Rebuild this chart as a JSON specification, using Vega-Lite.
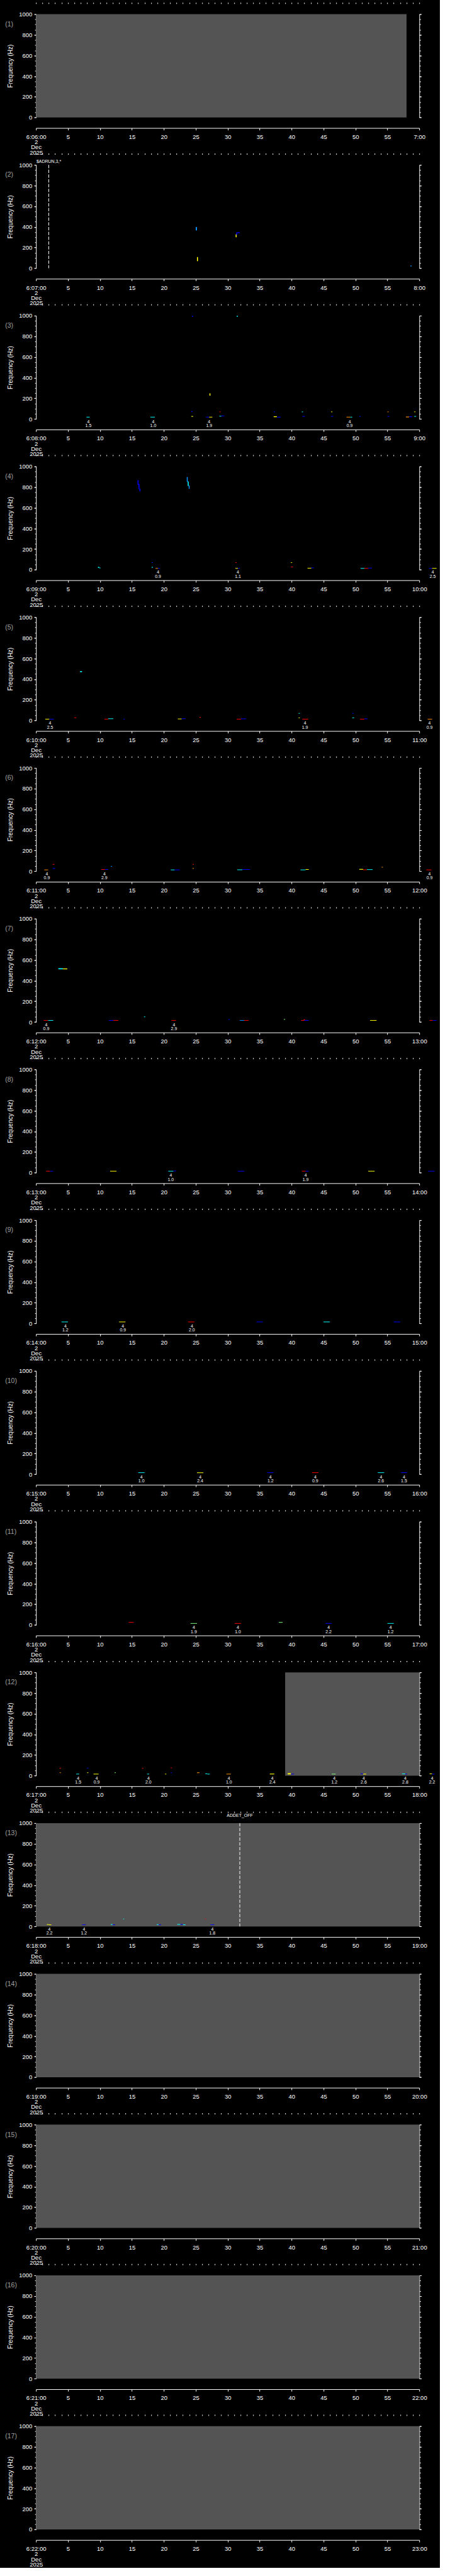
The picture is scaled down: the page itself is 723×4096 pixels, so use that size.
{
"$schema":"https://vega.github.io/schema/vega-lite/v6.json",
"background":"black",
"padding":{"left":8.2,"top":2.5,"right":5,"bottom":0},
"spacing":74.7,
"bounds":"flush",
"resolve":{"scale":{"x":"independent","y":"independent","color":"independent"},"axis":{"x":"independent","y":"independent"}},
"config":{
 "view":{"stroke":null},
 "font":"Liberation Sans",
 "axis":{"domainColor":"white","tickColor":"white","labelColor":"white","titleColor":"white","grid":false,"labelFontSize":9.5,"labelFont":"Liberation Sans","titleFont":"Liberation Sans","titleFontWeight":"normal","labelOverlap":false,"labelFlush":false,"labelBound":false,"domainWidth":1,"tickWidth":1,"zindex":1},
 "axisX":{"offset":16.7}
},
"datasets":{
 "panels":[{"p":1,"lab":"(1)"},{"p":2,"lab":"(2)"},{"p":3,"lab":"(3)"},{"p":4,"lab":"(4)"},{"p":5,"lab":"(5)"},{"p":6,"lab":"(6)"},{"p":7,"lab":"(7)"},{"p":8,"lab":"(8)"},{"p":9,"lab":"(9)"},{"p":10,"lab":"(10)"},{"p":11,"lab":"(11)"},{"p":12,"lab":"(12)"},{"p":13,"lab":"(13)"},{"p":14,"lab":"(14)"},{"p":15,"lab":"(15)"},{"p":16,"lab":"(16)"},{"p":17,"lab":"(17)"}],
 "gray":[
  {"p":1,"t":0,"t2":58,"f":0,"f2":1000},
  {"p":12,"t":39,"t2":60,"f":0,"f2":1000},
  {"p":13,"t":0,"t2":60,"f":0,"f2":1000},
  {"p":14,"t":0,"t2":60,"f":0,"f2":1000},
  {"p":15,"t":0,"t2":60,"f":0,"f2":1000},
  {"p":16,"t":0,"t2":60,"f":0,"f2":1000},
  {"p":17,"t":0,"t2":60,"f":0,"f2":1000}
 ],
 "events":[
  {"p":2,"t":2.0,"s":"$ADRUN,3,*"},
  {"p":13,"t":31.9,"s":"ADDET_OFF"}
 ],
 "notes":[
  {"p":3,"t":8.2,"a":"4","b":"1.5"},{"p":3,"t":18.35,"a":"4","b":"1.0"},{"p":3,"t":27.1,"a":"4","b":"1.9"},{"p":3,"t":49.1,"a":"4","b":"0.9"},
  {"p":4,"t":19.1,"a":"4","b":"0.9"},{"p":4,"t":31.6,"a":"4","b":"1.1"},{"p":4,"t":62.1,"a":"4","b":"2.5"},
  {"p":5,"t":2.2,"a":"4","b":"2.5"},{"p":5,"t":42.1,"a":"4","b":"1.9"},{"p":5,"t":61.6,"a":"4","b":"0.9"},
  {"p":6,"t":1.7,"a":"4","b":"0.9"},{"p":6,"t":10.7,"a":"4","b":"2.9"},{"p":6,"t":61.6,"a":"4","b":"0.9"},
  {"p":7,"t":1.6,"a":"4","b":"0.9"},{"p":7,"t":21.6,"a":"4","b":"2.9"},
  {"p":8,"t":21.1,"a":"4","b":"1.0"},{"p":8,"t":42.2,"a":"4","b":"1.9"},
  {"p":9,"t":4.6,"a":"4","b":"1.2"},{"p":9,"t":13.6,"a":"4","b":"0.9"},{"p":9,"t":24.4,"a":"4","b":"2.0"},
  {"p":10,"t":16.5,"a":"4","b":"1.0"},{"p":10,"t":25.7,"a":"4","b":"2.4"},{"p":10,"t":36.7,"a":"4","b":"1.2"},{"p":10,"t":43.7,"a":"4","b":"0.9"},{"p":10,"t":54.0,"a":"4","b":"2.6"},{"p":10,"t":57.6,"a":"4","b":"1.5"},
  {"p":11,"t":24.7,"a":"4","b":"1.9"},{"p":11,"t":31.6,"a":"4","b":"1.0"},{"p":11,"t":45.8,"a":"4","b":"2.2"},{"p":11,"t":55.5,"a":"4","b":"1.2"},
  {"p":12,"t":6.6,"a":"4","b":"1.5"},{"p":12,"t":9.5,"a":"4","b":"0.9"},{"p":12,"t":17.6,"a":"4","b":"2.0"},{"p":12,"t":30.2,"a":"4","b":"1.0"},{"p":12,"t":37.0,"a":"4","b":"2.4"},{"p":12,"t":46.7,"a":"4","b":"1.2"},{"p":12,"t":51.3,"a":"4","b":"2.6"},{"p":12,"t":57.8,"a":"4","b":"2.8"},{"p":12,"t":62.0,"a":"4","b":"2.2"},
  {"p":13,"t":2.1,"a":"4","b":"2.2"},{"p":13,"t":7.5,"a":"4","b":"1.2"},{"p":13,"t":27.6,"a":"4","b":"1.8"}
 ],
 "spots":[
  {"p":2,"t":25.0,"t2":25.2,"f":366,"f2":399,"v":2},
  {"p":2,"t":25.2,"t2":25.35,"f":69,"f2":108,"v":5},
  {"p":2,"t":31.25,"t2":31.4,"f":300,"f2":328,"v":5},
  {"p":2,"t":31.35,"t2":31.5,"f":322,"f2":346,"v":1},
  {"p":2,"t":31.45,"t2":31.9,"f":340,"f2":348,"v":1},
  {"p":2,"t":58.6,"t2":58.8,"f":18,"f2":26,"v":2},
  {"p":3,"t":24.4,"t2":24.6,"f":990,"f2":998,"v":1},
  {"p":3,"t":31.4,"t2":31.6,"f":990,"f2":998,"v":3},
  {"p":3,"t":27.15,"t2":27.3,"f":226,"f2":248,"v":5},
  {"p":3,"t":24.3,"t2":24.5,"f":68,"f2":76,"v":1},
  {"p":3,"t":28.7,"t2":28.9,"f":66,"f2":72,"v":7},
  {"p":3,"t":37.2,"t2":37.4,"f":66,"f2":72,"v":1},
  {"p":3,"t":41.6,"t2":41.8,"f":66,"f2":72,"v":3},
  {"p":3,"t":46.2,"t2":46.4,"f":66,"f2":72,"v":5},
  {"p":3,"t":55.0,"t2":55.2,"f":66,"f2":72,"v":6},
  {"p":3,"t":59.2,"t2":59.4,"f":66,"f2":72,"v":5},
  {"p":3,"t":7.9,"t2":8.4,"f":15,"f2":21,"v":3},
  {"p":3,"t":17.9,"t2":18.6,"f":15,"f2":21,"v":3},
  {"p":3,"t":24.3,"t2":24.6,"f":22,"f2":28,"v":5},
  {"p":3,"t":26.6,"t2":27.1,"f":15,"f2":21,"v":1},
  {"p":3,"t":27.1,"t2":27.6,"f":15,"f2":21,"v":5},
  {"p":3,"t":28.7,"t2":29.0,"f":24,"f2":30,"v":3},
  {"p":3,"t":29.0,"t2":29.5,"f":27,"f2":33,"v":1},
  {"p":3,"t":37.2,"t2":37.7,"f":18,"f2":26,"v":5},
  {"p":3,"t":37.7,"t2":38.3,"f":15,"f2":21,"v":1},
  {"p":3,"t":41.7,"t2":42.1,"f":22,"f2":28,"v":1},
  {"p":3,"t":46.2,"t2":46.5,"f":22,"f2":28,"v":1},
  {"p":3,"t":48.6,"t2":49.2,"f":15,"f2":21,"v":6},
  {"p":3,"t":49.2,"t2":49.5,"f":15,"f2":21,"v":3},
  {"p":3,"t":50.6,"t2":50.8,"f":22,"f2":28,"v":1},
  {"p":3,"t":55.0,"t2":55.3,"f":22,"f2":28,"v":1},
  {"p":3,"t":57.9,"t2":58.4,"f":16,"f2":23,"v":6},
  {"p":3,"t":58.4,"t2":58.9,"f":18,"f2":25,"v":1},
  {"p":3,"t":59.2,"t2":59.5,"f":22,"f2":28,"v":3},
  {"p":4,"t":15.9,"t2":16.05,"f":820,"f2":868,"v":1},
  {"p":4,"t":16.05,"t2":16.2,"f":780,"f2":830,"v":1},
  {"p":4,"t":16.2,"t2":16.35,"f":758,"f2":785,"v":1},
  {"p":4,"t":23.6,"t2":23.75,"f":850,"f2":897,"v":2},
  {"p":4,"t":23.75,"t2":23.9,"f":810,"f2":855,"v":3},
  {"p":4,"t":23.9,"t2":24.05,"f":783,"f2":815,"v":2},
  {"p":4,"t":9.7,"t2":9.9,"f":18,"f2":28,"v":3},
  {"p":4,"t":9.9,"t2":10.1,"f":14,"f2":20,"v":3},
  {"p":4,"t":18.1,"t2":18.3,"f":66,"f2":72,"v":1},
  {"p":4,"t":18.1,"t2":18.3,"f":20,"f2":27,"v":3},
  {"p":4,"t":18.7,"t2":19.1,"f":10,"f2":16,"v":6},
  {"p":4,"t":19.1,"t2":19.4,"f":10,"f2":16,"v":1},
  {"p":4,"t":31.2,"t2":31.4,"f":66,"f2":72,"v":7},
  {"p":4,"t":31.2,"t2":31.6,"f":10,"f2":16,"v":5},
  {"p":4,"t":31.6,"t2":31.9,"f":10,"f2":16,"v":1},
  {"p":4,"t":39.9,"t2":40.1,"f":66,"f2":72,"v":5},
  {"p":4,"t":39.9,"t2":40.2,"f":24,"f2":30,"v":7},
  {"p":4,"t":42.5,"t2":43.1,"f":12,"f2":18,"v":5},
  {"p":4,"t":43.1,"t2":43.5,"f":15,"f2":21,"v":1},
  {"p":4,"t":50.8,"t2":51.4,"f":10,"f2":16,"v":3},
  {"p":4,"t":51.4,"t2":52.0,"f":10,"f2":16,"v":7},
  {"p":4,"t":52.0,"t2":52.6,"f":13,"f2":19,"v":1},
  {"p":4,"t":61.5,"t2":62.0,"f":10,"f2":16,"v":1},
  {"p":4,"t":62.0,"t2":62.7,"f":10,"f2":16,"v":5},
  {"p":5,"t":6.9,"t2":7.2,"f":468,"f2":478,"v":3},
  {"p":5,"t":1.45,"t2":2.1,"f":10,"f2":16,"v":5},
  {"p":5,"t":2.1,"t2":2.8,"f":10,"f2":16,"v":1},
  {"p":5,"t":6.0,"t2":6.3,"f":24,"f2":30,"v":7},
  {"p":5,"t":10.7,"t2":11.3,"f":10,"f2":16,"v":7},
  {"p":5,"t":11.3,"t2":12.1,"f":14,"f2":20,"v":3},
  {"p":5,"t":13.7,"t2":13.9,"f":10,"f2":16,"v":1},
  {"p":5,"t":22.2,"t2":22.8,"f":12,"f2":18,"v":5},
  {"p":5,"t":22.8,"t2":23.4,"f":14,"f2":20,"v":1},
  {"p":5,"t":25.6,"t2":25.8,"f":27,"f2":33,"v":7},
  {"p":5,"t":31.4,"t2":32.1,"f":10,"f2":16,"v":7},
  {"p":5,"t":32.1,"t2":32.9,"f":13,"f2":19,"v":1},
  {"p":5,"t":41.1,"t2":41.3,"f":66,"f2":72,"v":3},
  {"p":5,"t":41.1,"t2":41.3,"f":23,"f2":29,"v":5},
  {"p":5,"t":41.7,"t2":42.6,"f":10,"f2":16,"v":7},
  {"p":5,"t":49.5,"t2":49.7,"f":66,"f2":72,"v":1},
  {"p":5,"t":49.5,"t2":49.8,"f":23,"f2":29,"v":3},
  {"p":5,"t":50.7,"t2":51.4,"f":10,"f2":16,"v":7},
  {"p":5,"t":51.4,"t2":51.9,"f":13,"f2":19,"v":1},
  {"p":5,"t":61.3,"t2":62.0,"f":10,"f2":16,"v":6},
  {"p":6,"t":1.3,"t2":1.9,"f":10,"f2":16,"v":6},
  {"p":6,"t":2.6,"t2":2.9,"f":64,"f2":70,"v":7},
  {"p":6,"t":2.6,"t2":3.0,"f":24,"f2":30,"v":1},
  {"p":6,"t":10.2,"t2":10.8,"f":14,"f2":20,"v":7},
  {"p":6,"t":10.8,"t2":11.3,"f":14,"f2":20,"v":1},
  {"p":6,"t":11.7,"t2":11.9,"f":44,"f2":50,"v":2},
  {"p":6,"t":21.1,"t2":21.7,"f":10,"f2":16,"v":3},
  {"p":6,"t":21.7,"t2":22.5,"f":10,"f2":16,"v":1},
  {"p":6,"t":24.5,"t2":24.7,"f":64,"f2":70,"v":7},
  {"p":6,"t":24.5,"t2":24.7,"f":24,"f2":30,"v":6},
  {"p":6,"t":31.5,"t2":32.3,"f":11,"f2":17,"v":3},
  {"p":6,"t":32.3,"t2":33.5,"f":14,"f2":20,"v":1},
  {"p":6,"t":41.4,"t2":42.2,"f":10,"f2":16,"v":3},
  {"p":6,"t":42.2,"t2":42.7,"f":14,"f2":20,"v":5},
  {"p":6,"t":50.6,"t2":51.2,"f":15,"f2":22,"v":5},
  {"p":6,"t":51.2,"t2":51.8,"f":11,"f2":17,"v":7},
  {"p":6,"t":51.8,"t2":52.7,"f":13,"f2":19,"v":3},
  {"p":6,"t":54.1,"t2":54.3,"f":36,"f2":42,"v":6},
  {"p":6,"t":61.1,"t2":61.9,"f":10,"f2":16,"v":7},
  {"p":7,"t":3.5,"t2":4.2,"f":510,"f2":520,"v":3},
  {"p":7,"t":4.2,"t2":4.9,"f":510,"f2":518,"v":5},
  {"p":7,"t":1.2,"t2":1.9,"f":12,"f2":18,"v":7},
  {"p":7,"t":1.9,"t2":2.7,"f":12,"f2":18,"v":3},
  {"p":7,"t":11.4,"t2":12.1,"f":12,"f2":18,"v":1},
  {"p":7,"t":12.1,"t2":12.9,"f":12,"f2":18,"v":7},
  {"p":7,"t":16.9,"t2":17.1,"f":47,"f2":53,"v":3},
  {"p":7,"t":21.2,"t2":21.9,"f":12,"f2":18,"v":7},
  {"p":7,"t":30.1,"t2":30.3,"f":21,"f2":27,"v":1},
  {"p":7,"t":31.9,"t2":32.6,"f":12,"f2":18,"v":2},
  {"p":7,"t":32.6,"t2":33.3,"f":12,"f2":18,"v":7},
  {"p":7,"t":38.8,"t2":39.0,"f":22,"f2":28,"v":4},
  {"p":7,"t":41.5,"t2":42.0,"f":12,"f2":18,"v":7},
  {"p":7,"t":42.0,"t2":42.7,"f":12,"f2":18,"v":1},
  {"p":7,"t":41.9,"t2":42.1,"f":18,"f2":26,"v":7},
  {"p":7,"t":52.3,"t2":53.3,"f":12,"f2":18,"v":5},
  {"p":7,"t":61.6,"t2":62.1,"f":12,"f2":18,"v":7},
  {"p":7,"t":62.1,"t2":62.7,"f":12,"f2":18,"v":1},
  {"p":8,"t":1.6,"t2":2.2,"f":12,"f2":18,"v":7},
  {"p":8,"t":2.2,"t2":2.7,"f":12,"f2":18,"v":1},
  {"p":8,"t":11.6,"t2":12.6,"f":12,"f2":18,"v":5},
  {"p":8,"t":20.7,"t2":21.5,"f":12,"f2":18,"v":3},
  {"p":8,"t":21.5,"t2":21.9,"f":14,"f2":20,"v":1},
  {"p":8,"t":31.6,"t2":32.6,"f":12,"f2":18,"v":1},
  {"p":8,"t":41.6,"t2":42.2,"f":12,"f2":18,"v":7},
  {"p":8,"t":42.2,"t2":42.7,"f":12,"f2":18,"v":1},
  {"p":8,"t":52.0,"t2":53.0,"f":12,"f2":18,"v":5},
  {"p":8,"t":61.4,"t2":62.4,"f":12,"f2":18,"v":1},
  {"p":9,"t":4.0,"t2":5.0,"f":12,"f2":18,"v":3},
  {"p":9,"t":13.0,"t2":14.0,"f":12,"f2":18,"v":5},
  {"p":9,"t":23.8,"t2":24.8,"f":12,"f2":18,"v":7},
  {"p":9,"t":34.5,"t2":35.5,"f":12,"f2":18,"v":1},
  {"p":9,"t":45.0,"t2":46.0,"f":12,"f2":18,"v":3},
  {"p":9,"t":56.0,"t2":57.0,"f":12,"f2":18,"v":1},
  {"p":10,"t":16.0,"t2":17.0,"f":12,"f2":18,"v":3},
  {"p":10,"t":25.2,"t2":26.2,"f":12,"f2":18,"v":5},
  {"p":10,"t":36.2,"t2":37.2,"f":12,"f2":18,"v":1},
  {"p":10,"t":43.2,"t2":44.2,"f":12,"f2":18,"v":7},
  {"p":10,"t":53.5,"t2":54.5,"f":12,"f2":18,"v":3},
  {"p":10,"t":57.1,"t2":58.1,"f":12,"f2":18,"v":1},
  {"p":11,"t":14.5,"t2":15.3,"f":22,"f2":28,"v":7},
  {"p":11,"t":24.2,"t2":25.2,"f":12,"f2":18,"v":4},
  {"p":11,"t":31.1,"t2":32.1,"f":12,"f2":18,"v":7},
  {"p":11,"t":38.0,"t2":38.6,"f":22,"f2":28,"v":4},
  {"p":11,"t":45.3,"t2":46.3,"f":12,"f2":18,"v":1},
  {"p":11,"t":55.0,"t2":56.0,"f":12,"f2":18,"v":3},
  {"p":12,"t":3.7,"t2":3.9,"f":70,"f2":76,"v":7},
  {"p":12,"t":3.7,"t2":3.9,"f":26,"f2":32,"v":6},
  {"p":12,"t":6.3,"t2":6.75,"f":13,"f2":19,"v":3},
  {"p":12,"t":8.0,"t2":8.2,"f":71,"f2":77,"v":1},
  {"p":12,"t":8.0,"t2":8.2,"f":26,"f2":32,"v":5},
  {"p":12,"t":9.0,"t2":9.8,"f":13,"f2":19,"v":5},
  {"p":12,"t":12.3,"t2":12.5,"f":26,"f2":32,"v":4},
  {"p":12,"t":16.6,"t2":16.8,"f":69,"f2":75,"v":7},
  {"p":12,"t":17.4,"t2":17.7,"f":13,"f2":19,"v":3},
  {"p":12,"t":20.2,"t2":20.4,"f":13,"f2":19,"v":5},
  {"p":12,"t":21.1,"t2":21.3,"f":73,"f2":79,"v":7},
  {"p":12,"t":21.1,"t2":21.3,"f":26,"f2":32,"v":1},
  {"p":12,"t":25.2,"t2":25.6,"f":26,"f2":32,"v":6},
  {"p":12,"t":26.5,"t2":26.8,"f":16,"f2":22,"v":3},
  {"p":12,"t":26.8,"t2":27.2,"f":13,"f2":19,"v":3},
  {"p":12,"t":29.8,"t2":30.5,"f":13,"f2":19,"v":6},
  {"p":12,"t":36.6,"t2":37.3,"f":13,"f2":20,"v":5},
  {"p":12,"t":39.4,"t2":39.9,"f":13,"f2":25,"v":5},
  {"p":12,"t":39.9,"t2":40.4,"f":13,"f2":19,"v":1},
  {"p":12,"t":46.3,"t2":46.9,"f":13,"f2":19,"v":4},
  {"p":12,"t":50.8,"t2":51.2,"f":16,"f2":22,"v":1},
  {"p":12,"t":51.2,"t2":51.7,"f":13,"f2":19,"v":5},
  {"p":12,"t":57.3,"t2":57.8,"f":15,"f2":21,"v":3},
  {"p":12,"t":57.8,"t2":58.1,"f":13,"f2":19,"v":1},
  {"p":12,"t":61.6,"t2":62.0,"f":15,"f2":21,"v":5},
  {"p":12,"t":62.0,"t2":62.4,"f":13,"f2":19,"v":1},
  {"p":13,"t":1.7,"t2":2.0,"f":16,"f2":22,"v":5},
  {"p":13,"t":2.0,"t2":2.4,"f":13,"f2":19,"v":5},
  {"p":13,"t":7.2,"t2":7.8,"f":13,"f2":19,"v":1},
  {"p":13,"t":11.7,"t2":12.0,"f":16,"f2":22,"v":3},
  {"p":13,"t":12.0,"t2":12.4,"f":13,"f2":19,"v":1},
  {"p":13,"t":13.65,"t2":13.8,"f":70,"f2":76,"v":3},
  {"p":13,"t":18.9,"t2":19.2,"f":15,"f2":21,"v":3},
  {"p":13,"t":19.2,"t2":19.6,"f":13,"f2":19,"v":1},
  {"p":13,"t":22.1,"t2":22.6,"f":17,"f2":23,"v":3},
  {"p":13,"t":22.6,"t2":23.0,"f":17,"f2":23,"v":1},
  {"p":13,"t":23.0,"t2":23.4,"f":13,"f2":19,"v":3},
  {"p":13,"t":26.45,"t2":26.6,"f":70,"f2":76,"v":7},
  {"p":13,"t":27.3,"t2":27.9,"f":13,"f2":19,"v":1}
 ]
},
"vconcat":[
{"width":609.1,"height":164.3,"layer":[
{"data":{"name":"gray"},"transform":[{"filter":"datum.p==1"}],"mark":{"type":"rect","color":"#545454"},"encoding":{"x":{"field":"t","type":"quantitative","scale":{"domain":[0,60],"nice":false,"zero":false},"axis":{"values":[0,5,10,15,20,25,30,35,40,45,50,55,60],"tickSize":3.3,"labelPadding":5.5,"labelBaseline":"top","labelLineHeight":8.3,"labelExpr":"datum.value==0?['6:06:00','2','Dec','2025']:datum.value==60?'7:00':datum.label","title":null}},"x2":{"field":"t2"},"y":{"field":"f","type":"quantitative","scale":{"domain":[0,1000],"nice":false,"zero":false},"axis":{"orient":"left","values":[0,200,400,600,800,1000],"format":"d","tickSize":3.3,"labelPadding":3,"title":"Frequency (Hz)","titleFontSize":10,"titlePadding":8}},"y2":{"field":"f2"}}},
{"data":{"name":"spots"},"transform":[{"filter":"datum.p==1"}],"mark":"rect","encoding":{"x":{"field":"t","type":"quantitative","scale":{"domain":[0,60],"nice":false,"zero":false},"axis":{"values":[0,1,2,3,4,5,6,7,8,9,10,11,12,13,14,15,16,17,18,19,20,21,22,23,24,25,26,27,28,29,30,31,32,33,34,35,36,37,38,39,40,41,42,43,44,45,46,47,48,49,50,51,52,53,54,55,56,57,58,59,60],"tickSize":2,"labels":false,"domain":false,"title":null}},"x2":{"field":"t2"},"y":{"field":"f","type":"quantitative","scale":{"domain":[0,1000],"nice":false,"zero":false},"axis":{"orient":"left","values":[0,50,100,150,200,250,300,350,400,450,500,550,600,650,700,750,800,850,900,950,1000],"tickSize":2,"labels":false,"domain":false,"title":null}},"y2":{"field":"f2"},"color":{"field":"v","type":"ordinal","scale":{"domain":[1,2,3,4,5,6,7],"range":["#0000ff","#0090ff","#00ffff","#80ff80","#ffff00","#ff9000","#ff0000"]},"legend":null}}},
{"data":{"name":"notes"},"transform":[{"filter":"datum.p==1"}],"mark":{"type":"text","color":"white","fontSize":7,"baseline":"middle","dy":4.5},"encoding":{"x":{"field":"t","type":"quantitative","scale":{"domain":[0,60],"nice":false,"zero":false},"axis":null},"y":{"datum":0,"type":"quantitative","scale":{"domain":[0,1000],"nice":false,"zero":false},"axis":{"orient":"right","values":[0,200,400,600,800,1000],"tickSize":3.3,"labels":false,"title":null}},"text":{"field":"a"}}},
{"data":{"name":"notes"},"transform":[{"filter":"datum.p==1"}],"mark":{"type":"text","color":"white","fontSize":7,"baseline":"middle","dy":10.9},"encoding":{"x":{"field":"t","type":"quantitative","scale":{"domain":[0,60],"nice":false,"zero":false},"axis":null},"y":{"datum":0,"type":"quantitative","scale":{"domain":[0,1000],"nice":false,"zero":false},"axis":{"orient":"right","values":[0,50,100,150,200,250,300,350,400,450,500,550,600,650,700,750,800,850,900,950,1000],"tickSize":2,"labels":false,"domain":false,"title":null}},"text":{"field":"b"}}},
{"data":{"name":"panels"},"transform":[{"filter":"datum.p==1"}],"mark":{"type":"text","align":"left","baseline":"middle","color":"#a0a0a0","fontSize":10.5},"encoding":{"x":{"datum":-4.82,"type":"quantitative","scale":{"domain":[0,60],"nice":false,"zero":false},"axis":null},"y":{"datum":901,"type":"quantitative","scale":{"domain":[0,1000],"nice":false,"zero":false},"axis":null},"text":{"field":"lab"}}}
],"resolve":{"axis":{"x":"independent","y":"independent"}}},

{"width":609.1,"height":164.3,"layer":[
{"data":{"name":"gray"},"transform":[{"filter":"datum.p==2"}],"mark":{"type":"rect","color":"#545454"},"encoding":{"x":{"field":"t","type":"quantitative","scale":{"domain":[0,60],"nice":false,"zero":false},"axis":{"values":[0,5,10,15,20,25,30,35,40,45,50,55,60],"tickSize":3.3,"labelPadding":5.5,"labelBaseline":"top","labelLineHeight":8.3,"labelExpr":"datum.value==0?['6:07:00','2','Dec','2025']:datum.value==60?'8:00':datum.label","title":null}},"x2":{"field":"t2"},"y":{"field":"f","type":"quantitative","scale":{"domain":[0,1000],"nice":false,"zero":false},"axis":{"orient":"left","values":[0,200,400,600,800,1000],"format":"d","tickSize":3.3,"labelPadding":3,"title":"Frequency (Hz)","titleFontSize":10,"titlePadding":8}},"y2":{"field":"f2"}}},
{"data":{"name":"spots"},"transform":[{"filter":"datum.p==2"}],"mark":"rect","encoding":{"x":{"field":"t","type":"quantitative","scale":{"domain":[0,60],"nice":false,"zero":false},"axis":{"values":[0,1,2,3,4,5,6,7,8,9,10,11,12,13,14,15,16,17,18,19,20,21,22,23,24,25,26,27,28,29,30,31,32,33,34,35,36,37,38,39,40,41,42,43,44,45,46,47,48,49,50,51,52,53,54,55,56,57,58,59,60],"tickSize":2,"labels":false,"domain":false,"title":null}},"x2":{"field":"t2"},"y":{"field":"f","type":"quantitative","scale":{"domain":[0,1000],"nice":false,"zero":false},"axis":{"orient":"left","values":[0,50,100,150,200,250,300,350,400,450,500,550,600,650,700,750,800,850,900,950,1000],"tickSize":2,"labels":false,"domain":false,"title":null}},"y2":{"field":"f2"},"color":{"field":"v","type":"ordinal","scale":{"domain":[1,2,3,4,5,6,7],"range":["#0000ff","#0090ff","#00ffff","#80ff80","#ffff00","#ff9000","#ff0000"]},"legend":null}}},
{"data":{"name":"notes"},"transform":[{"filter":"datum.p==2"}],"mark":{"type":"text","color":"white","fontSize":7,"baseline":"middle","dy":4.5},"encoding":{"x":{"field":"t","type":"quantitative","scale":{"domain":[0,60],"nice":false,"zero":false},"axis":null},"y":{"datum":0,"type":"quantitative","scale":{"domain":[0,1000],"nice":false,"zero":false},"axis":{"orient":"right","values":[0,200,400,600,800,1000],"tickSize":3.3,"labels":false,"title":null}},"text":{"field":"a"}}},
{"data":{"name":"notes"},"transform":[{"filter":"datum.p==2"}],"mark":{"type":"text","color":"white","fontSize":7,"baseline":"middle","dy":10.9},"encoding":{"x":{"field":"t","type":"quantitative","scale":{"domain":[0,60],"nice":false,"zero":false},"axis":null},"y":{"datum":0,"type":"quantitative","scale":{"domain":[0,1000],"nice":false,"zero":false},"axis":{"orient":"right","values":[0,50,100,150,200,250,300,350,400,450,500,550,600,650,700,750,800,850,900,950,1000],"tickSize":2,"labels":false,"domain":false,"title":null}},"text":{"field":"b"}}},
{"data":{"name":"panels"},"transform":[{"filter":"datum.p==2"}],"mark":{"type":"text","align":"left","baseline":"middle","color":"#a0a0a0","fontSize":10.5},"encoding":{"x":{"datum":-4.82,"type":"quantitative","scale":{"domain":[0,60],"nice":false,"zero":false},"axis":null},"y":{"datum":901,"type":"quantitative","scale":{"domain":[0,1000],"nice":false,"zero":false},"axis":null},"text":{"field":"lab"}}},
{"data":{"name":"events"},"transform":[{"filter":"datum.p==2"}],"mark":{"type":"rule","color":"white","strokeDash":[5.2,2.4],"strokeWidth":1},"encoding":{"x":{"field":"t","type":"quantitative","scale":{"domain":[0,60],"nice":false,"zero":false},"axis":null},"y":{"datum":1000,"type":"quantitative","scale":{"domain":[0,1000],"nice":false,"zero":false},"axis":null},"y2":{"datum":0}}},
{"data":{"name":"events"},"transform":[{"filter":"datum.p==2"}],"mark":{"type":"text","color":"white","fontSize":7,"baseline":"middle","dy":-5.6},"encoding":{"x":{"field":"t","type":"quantitative","scale":{"domain":[0,60],"nice":false,"zero":false},"axis":null},"y":{"datum":1000,"type":"quantitative","scale":{"domain":[0,1000],"nice":false,"zero":false},"axis":null},"text":{"field":"s"}}}
],"resolve":{"axis":{"x":"independent","y":"independent"}}},

{"width":609.1,"height":164.3,"layer":[
{"data":{"name":"gray"},"transform":[{"filter":"datum.p==3"}],"mark":{"type":"rect","color":"#545454"},"encoding":{"x":{"field":"t","type":"quantitative","scale":{"domain":[0,60],"nice":false,"zero":false},"axis":{"values":[0,5,10,15,20,25,30,35,40,45,50,55,60],"tickSize":3.3,"labelPadding":5.5,"labelBaseline":"top","labelLineHeight":8.3,"labelExpr":"datum.value==0?['6:08:00','2','Dec','2025']:datum.value==60?'9:00':datum.label","title":null}},"x2":{"field":"t2"},"y":{"field":"f","type":"quantitative","scale":{"domain":[0,1000],"nice":false,"zero":false},"axis":{"orient":"left","values":[0,200,400,600,800,1000],"format":"d","tickSize":3.3,"labelPadding":3,"title":"Frequency (Hz)","titleFontSize":10,"titlePadding":8}},"y2":{"field":"f2"}}},
{"data":{"name":"spots"},"transform":[{"filter":"datum.p==3"}],"mark":"rect","encoding":{"x":{"field":"t","type":"quantitative","scale":{"domain":[0,60],"nice":false,"zero":false},"axis":{"values":[0,1,2,3,4,5,6,7,8,9,10,11,12,13,14,15,16,17,18,19,20,21,22,23,24,25,26,27,28,29,30,31,32,33,34,35,36,37,38,39,40,41,42,43,44,45,46,47,48,49,50,51,52,53,54,55,56,57,58,59,60],"tickSize":2,"labels":false,"domain":false,"title":null}},"x2":{"field":"t2"},"y":{"field":"f","type":"quantitative","scale":{"domain":[0,1000],"nice":false,"zero":false},"axis":{"orient":"left","values":[0,50,100,150,200,250,300,350,400,450,500,550,600,650,700,750,800,850,900,950,1000],"tickSize":2,"labels":false,"domain":false,"title":null}},"y2":{"field":"f2"},"color":{"field":"v","type":"ordinal","scale":{"domain":[1,2,3,4,5,6,7],"range":["#0000ff","#0090ff","#00ffff","#80ff80","#ffff00","#ff9000","#ff0000"]},"legend":null}}},
{"data":{"name":"notes"},"transform":[{"filter":"datum.p==3"}],"mark":{"type":"text","color":"white","fontSize":7,"baseline":"middle","dy":4.5},"encoding":{"x":{"field":"t","type":"quantitative","scale":{"domain":[0,60],"nice":false,"zero":false},"axis":null},"y":{"datum":0,"type":"quantitative","scale":{"domain":[0,1000],"nice":false,"zero":false},"axis":{"orient":"right","values":[0,200,400,600,800,1000],"tickSize":3.3,"labels":false,"title":null}},"text":{"field":"a"}}},
{"data":{"name":"notes"},"transform":[{"filter":"datum.p==3"}],"mark":{"type":"text","color":"white","fontSize":7,"baseline":"middle","dy":10.9},"encoding":{"x":{"field":"t","type":"quantitative","scale":{"domain":[0,60],"nice":false,"zero":false},"axis":null},"y":{"datum":0,"type":"quantitative","scale":{"domain":[0,1000],"nice":false,"zero":false},"axis":{"orient":"right","values":[0,50,100,150,200,250,300,350,400,450,500,550,600,650,700,750,800,850,900,950,1000],"tickSize":2,"labels":false,"domain":false,"title":null}},"text":{"field":"b"}}},
{"data":{"name":"panels"},"transform":[{"filter":"datum.p==3"}],"mark":{"type":"text","align":"left","baseline":"middle","color":"#a0a0a0","fontSize":10.5},"encoding":{"x":{"datum":-4.82,"type":"quantitative","scale":{"domain":[0,60],"nice":false,"zero":false},"axis":null},"y":{"datum":901,"type":"quantitative","scale":{"domain":[0,1000],"nice":false,"zero":false},"axis":null},"text":{"field":"lab"}}}
],"resolve":{"axis":{"x":"independent","y":"independent"}}},

{"width":609.1,"height":164.3,"layer":[
{"data":{"name":"gray"},"transform":[{"filter":"datum.p==4"}],"mark":{"type":"rect","color":"#545454"},"encoding":{"x":{"field":"t","type":"quantitative","scale":{"domain":[0,60],"nice":false,"zero":false},"axis":{"values":[0,5,10,15,20,25,30,35,40,45,50,55,60],"tickSize":3.3,"labelPadding":5.5,"labelBaseline":"top","labelLineHeight":8.3,"labelExpr":"datum.value==0?['6:09:00','2','Dec','2025']:datum.value==60?'10:00':datum.label","title":null}},"x2":{"field":"t2"},"y":{"field":"f","type":"quantitative","scale":{"domain":[0,1000],"nice":false,"zero":false},"axis":{"orient":"left","values":[0,200,400,600,800,1000],"format":"d","tickSize":3.3,"labelPadding":3,"title":"Frequency (Hz)","titleFontSize":10,"titlePadding":8}},"y2":{"field":"f2"}}},
{"data":{"name":"spots"},"transform":[{"filter":"datum.p==4"}],"mark":"rect","encoding":{"x":{"field":"t","type":"quantitative","scale":{"domain":[0,60],"nice":false,"zero":false},"axis":{"values":[0,1,2,3,4,5,6,7,8,9,10,11,12,13,14,15,16,17,18,19,20,21,22,23,24,25,26,27,28,29,30,31,32,33,34,35,36,37,38,39,40,41,42,43,44,45,46,47,48,49,50,51,52,53,54,55,56,57,58,59,60],"tickSize":2,"labels":false,"domain":false,"title":null}},"x2":{"field":"t2"},"y":{"field":"f","type":"quantitative","scale":{"domain":[0,1000],"nice":false,"zero":false},"axis":{"orient":"left","values":[0,50,100,150,200,250,300,350,400,450,500,550,600,650,700,750,800,850,900,950,1000],"tickSize":2,"labels":false,"domain":false,"title":null}},"y2":{"field":"f2"},"color":{"field":"v","type":"ordinal","scale":{"domain":[1,2,3,4,5,6,7],"range":["#0000ff","#0090ff","#00ffff","#80ff80","#ffff00","#ff9000","#ff0000"]},"legend":null}}},
{"data":{"name":"notes"},"transform":[{"filter":"datum.p==4"}],"mark":{"type":"text","color":"white","fontSize":7,"baseline":"middle","dy":4.5},"encoding":{"x":{"field":"t","type":"quantitative","scale":{"domain":[0,60],"nice":false,"zero":false},"axis":null},"y":{"datum":0,"type":"quantitative","scale":{"domain":[0,1000],"nice":false,"zero":false},"axis":{"orient":"right","values":[0,200,400,600,800,1000],"tickSize":3.3,"labels":false,"title":null}},"text":{"field":"a"}}},
{"data":{"name":"notes"},"transform":[{"filter":"datum.p==4"}],"mark":{"type":"text","color":"white","fontSize":7,"baseline":"middle","dy":10.9},"encoding":{"x":{"field":"t","type":"quantitative","scale":{"domain":[0,60],"nice":false,"zero":false},"axis":null},"y":{"datum":0,"type":"quantitative","scale":{"domain":[0,1000],"nice":false,"zero":false},"axis":{"orient":"right","values":[0,50,100,150,200,250,300,350,400,450,500,550,600,650,700,750,800,850,900,950,1000],"tickSize":2,"labels":false,"domain":false,"title":null}},"text":{"field":"b"}}},
{"data":{"name":"panels"},"transform":[{"filter":"datum.p==4"}],"mark":{"type":"text","align":"left","baseline":"middle","color":"#a0a0a0","fontSize":10.5},"encoding":{"x":{"datum":-4.82,"type":"quantitative","scale":{"domain":[0,60],"nice":false,"zero":false},"axis":null},"y":{"datum":901,"type":"quantitative","scale":{"domain":[0,1000],"nice":false,"zero":false},"axis":null},"text":{"field":"lab"}}}
],"resolve":{"axis":{"x":"independent","y":"independent"}}},

{"width":609.1,"height":164.3,"layer":[
{"data":{"name":"gray"},"transform":[{"filter":"datum.p==5"}],"mark":{"type":"rect","color":"#545454"},"encoding":{"x":{"field":"t","type":"quantitative","scale":{"domain":[0,60],"nice":false,"zero":false},"axis":{"values":[0,5,10,15,20,25,30,35,40,45,50,55,60],"tickSize":3.3,"labelPadding":5.5,"labelBaseline":"top","labelLineHeight":8.3,"labelExpr":"datum.value==0?['6:10:00','2','Dec','2025']:datum.value==60?'11:00':datum.label","title":null}},"x2":{"field":"t2"},"y":{"field":"f","type":"quantitative","scale":{"domain":[0,1000],"nice":false,"zero":false},"axis":{"orient":"left","values":[0,200,400,600,800,1000],"format":"d","tickSize":3.3,"labelPadding":3,"title":"Frequency (Hz)","titleFontSize":10,"titlePadding":8}},"y2":{"field":"f2"}}},
{"data":{"name":"spots"},"transform":[{"filter":"datum.p==5"}],"mark":"rect","encoding":{"x":{"field":"t","type":"quantitative","scale":{"domain":[0,60],"nice":false,"zero":false},"axis":{"values":[0,1,2,3,4,5,6,7,8,9,10,11,12,13,14,15,16,17,18,19,20,21,22,23,24,25,26,27,28,29,30,31,32,33,34,35,36,37,38,39,40,41,42,43,44,45,46,47,48,49,50,51,52,53,54,55,56,57,58,59,60],"tickSize":2,"labels":false,"domain":false,"title":null}},"x2":{"field":"t2"},"y":{"field":"f","type":"quantitative","scale":{"domain":[0,1000],"nice":false,"zero":false},"axis":{"orient":"left","values":[0,50,100,150,200,250,300,350,400,450,500,550,600,650,700,750,800,850,900,950,1000],"tickSize":2,"labels":false,"domain":false,"title":null}},"y2":{"field":"f2"},"color":{"field":"v","type":"ordinal","scale":{"domain":[1,2,3,4,5,6,7],"range":["#0000ff","#0090ff","#00ffff","#80ff80","#ffff00","#ff9000","#ff0000"]},"legend":null}}},
{"data":{"name":"notes"},"transform":[{"filter":"datum.p==5"}],"mark":{"type":"text","color":"white","fontSize":7,"baseline":"middle","dy":4.5},"encoding":{"x":{"field":"t","type":"quantitative","scale":{"domain":[0,60],"nice":false,"zero":false},"axis":null},"y":{"datum":0,"type":"quantitative","scale":{"domain":[0,1000],"nice":false,"zero":false},"axis":{"orient":"right","values":[0,200,400,600,800,1000],"tickSize":3.3,"labels":false,"title":null}},"text":{"field":"a"}}},
{"data":{"name":"notes"},"transform":[{"filter":"datum.p==5"}],"mark":{"type":"text","color":"white","fontSize":7,"baseline":"middle","dy":10.9},"encoding":{"x":{"field":"t","type":"quantitative","scale":{"domain":[0,60],"nice":false,"zero":false},"axis":null},"y":{"datum":0,"type":"quantitative","scale":{"domain":[0,1000],"nice":false,"zero":false},"axis":{"orient":"right","values":[0,50,100,150,200,250,300,350,400,450,500,550,600,650,700,750,800,850,900,950,1000],"tickSize":2,"labels":false,"domain":false,"title":null}},"text":{"field":"b"}}},
{"data":{"name":"panels"},"transform":[{"filter":"datum.p==5"}],"mark":{"type":"text","align":"left","baseline":"middle","color":"#a0a0a0","fontSize":10.5},"encoding":{"x":{"datum":-4.82,"type":"quantitative","scale":{"domain":[0,60],"nice":false,"zero":false},"axis":null},"y":{"datum":901,"type":"quantitative","scale":{"domain":[0,1000],"nice":false,"zero":false},"axis":null},"text":{"field":"lab"}}}
],"resolve":{"axis":{"x":"independent","y":"independent"}}},

{"width":609.1,"height":164.3,"layer":[
{"data":{"name":"gray"},"transform":[{"filter":"datum.p==6"}],"mark":{"type":"rect","color":"#545454"},"encoding":{"x":{"field":"t","type":"quantitative","scale":{"domain":[0,60],"nice":false,"zero":false},"axis":{"values":[0,5,10,15,20,25,30,35,40,45,50,55,60],"tickSize":3.3,"labelPadding":5.5,"labelBaseline":"top","labelLineHeight":8.3,"labelExpr":"datum.value==0?['6:11:00','2','Dec','2025']:datum.value==60?'12:00':datum.label","title":null}},"x2":{"field":"t2"},"y":{"field":"f","type":"quantitative","scale":{"domain":[0,1000],"nice":false,"zero":false},"axis":{"orient":"left","values":[0,200,400,600,800,1000],"format":"d","tickSize":3.3,"labelPadding":3,"title":"Frequency (Hz)","titleFontSize":10,"titlePadding":8}},"y2":{"field":"f2"}}},
{"data":{"name":"spots"},"transform":[{"filter":"datum.p==6"}],"mark":"rect","encoding":{"x":{"field":"t","type":"quantitative","scale":{"domain":[0,60],"nice":false,"zero":false},"axis":{"values":[0,1,2,3,4,5,6,7,8,9,10,11,12,13,14,15,16,17,18,19,20,21,22,23,24,25,26,27,28,29,30,31,32,33,34,35,36,37,38,39,40,41,42,43,44,45,46,47,48,49,50,51,52,53,54,55,56,57,58,59,60],"tickSize":2,"labels":false,"domain":false,"title":null}},"x2":{"field":"t2"},"y":{"field":"f","type":"quantitative","scale":{"domain":[0,1000],"nice":false,"zero":false},"axis":{"orient":"left","values":[0,50,100,150,200,250,300,350,400,450,500,550,600,650,700,750,800,850,900,950,1000],"tickSize":2,"labels":false,"domain":false,"title":null}},"y2":{"field":"f2"},"color":{"field":"v","type":"ordinal","scale":{"domain":[1,2,3,4,5,6,7],"range":["#0000ff","#0090ff","#00ffff","#80ff80","#ffff00","#ff9000","#ff0000"]},"legend":null}}},
{"data":{"name":"notes"},"transform":[{"filter":"datum.p==6"}],"mark":{"type":"text","color":"white","fontSize":7,"baseline":"middle","dy":4.5},"encoding":{"x":{"field":"t","type":"quantitative","scale":{"domain":[0,60],"nice":false,"zero":false},"axis":null},"y":{"datum":0,"type":"quantitative","scale":{"domain":[0,1000],"nice":false,"zero":false},"axis":{"orient":"right","values":[0,200,400,600,800,1000],"tickSize":3.3,"labels":false,"title":null}},"text":{"field":"a"}}},
{"data":{"name":"notes"},"transform":[{"filter":"datum.p==6"}],"mark":{"type":"text","color":"white","fontSize":7,"baseline":"middle","dy":10.9},"encoding":{"x":{"field":"t","type":"quantitative","scale":{"domain":[0,60],"nice":false,"zero":false},"axis":null},"y":{"datum":0,"type":"quantitative","scale":{"domain":[0,1000],"nice":false,"zero":false},"axis":{"orient":"right","values":[0,50,100,150,200,250,300,350,400,450,500,550,600,650,700,750,800,850,900,950,1000],"tickSize":2,"labels":false,"domain":false,"title":null}},"text":{"field":"b"}}},
{"data":{"name":"panels"},"transform":[{"filter":"datum.p==6"}],"mark":{"type":"text","align":"left","baseline":"middle","color":"#a0a0a0","fontSize":10.5},"encoding":{"x":{"datum":-4.82,"type":"quantitative","scale":{"domain":[0,60],"nice":false,"zero":false},"axis":null},"y":{"datum":901,"type":"quantitative","scale":{"domain":[0,1000],"nice":false,"zero":false},"axis":null},"text":{"field":"lab"}}}
],"resolve":{"axis":{"x":"independent","y":"independent"}}},

{"width":609.1,"height":164.3,"layer":[
{"data":{"name":"gray"},"transform":[{"filter":"datum.p==7"}],"mark":{"type":"rect","color":"#545454"},"encoding":{"x":{"field":"t","type":"quantitative","scale":{"domain":[0,60],"nice":false,"zero":false},"axis":{"values":[0,5,10,15,20,25,30,35,40,45,50,55,60],"tickSize":3.3,"labelPadding":5.5,"labelBaseline":"top","labelLineHeight":8.3,"labelExpr":"datum.value==0?['6:12:00','2','Dec','2025']:datum.value==60?'13:00':datum.label","title":null}},"x2":{"field":"t2"},"y":{"field":"f","type":"quantitative","scale":{"domain":[0,1000],"nice":false,"zero":false},"axis":{"orient":"left","values":[0,200,400,600,800,1000],"format":"d","tickSize":3.3,"labelPadding":3,"title":"Frequency (Hz)","titleFontSize":10,"titlePadding":8}},"y2":{"field":"f2"}}},
{"data":{"name":"spots"},"transform":[{"filter":"datum.p==7"}],"mark":"rect","encoding":{"x":{"field":"t","type":"quantitative","scale":{"domain":[0,60],"nice":false,"zero":false},"axis":{"values":[0,1,2,3,4,5,6,7,8,9,10,11,12,13,14,15,16,17,18,19,20,21,22,23,24,25,26,27,28,29,30,31,32,33,34,35,36,37,38,39,40,41,42,43,44,45,46,47,48,49,50,51,52,53,54,55,56,57,58,59,60],"tickSize":2,"labels":false,"domain":false,"title":null}},"x2":{"field":"t2"},"y":{"field":"f","type":"quantitative","scale":{"domain":[0,1000],"nice":false,"zero":false},"axis":{"orient":"left","values":[0,50,100,150,200,250,300,350,400,450,500,550,600,650,700,750,800,850,900,950,1000],"tickSize":2,"labels":false,"domain":false,"title":null}},"y2":{"field":"f2"},"color":{"field":"v","type":"ordinal","scale":{"domain":[1,2,3,4,5,6,7],"range":["#0000ff","#0090ff","#00ffff","#80ff80","#ffff00","#ff9000","#ff0000"]},"legend":null}}},
{"data":{"name":"notes"},"transform":[{"filter":"datum.p==7"}],"mark":{"type":"text","color":"white","fontSize":7,"baseline":"middle","dy":4.5},"encoding":{"x":{"field":"t","type":"quantitative","scale":{"domain":[0,60],"nice":false,"zero":false},"axis":null},"y":{"datum":0,"type":"quantitative","scale":{"domain":[0,1000],"nice":false,"zero":false},"axis":{"orient":"right","values":[0,200,400,600,800,1000],"tickSize":3.3,"labels":false,"title":null}},"text":{"field":"a"}}},
{"data":{"name":"notes"},"transform":[{"filter":"datum.p==7"}],"mark":{"type":"text","color":"white","fontSize":7,"baseline":"middle","dy":10.9},"encoding":{"x":{"field":"t","type":"quantitative","scale":{"domain":[0,60],"nice":false,"zero":false},"axis":null},"y":{"datum":0,"type":"quantitative","scale":{"domain":[0,1000],"nice":false,"zero":false},"axis":{"orient":"right","values":[0,50,100,150,200,250,300,350,400,450,500,550,600,650,700,750,800,850,900,950,1000],"tickSize":2,"labels":false,"domain":false,"title":null}},"text":{"field":"b"}}},
{"data":{"name":"panels"},"transform":[{"filter":"datum.p==7"}],"mark":{"type":"text","align":"left","baseline":"middle","color":"#a0a0a0","fontSize":10.5},"encoding":{"x":{"datum":-4.82,"type":"quantitative","scale":{"domain":[0,60],"nice":false,"zero":false},"axis":null},"y":{"datum":901,"type":"quantitative","scale":{"domain":[0,1000],"nice":false,"zero":false},"axis":null},"text":{"field":"lab"}}}
],"resolve":{"axis":{"x":"independent","y":"independent"}}},

{"width":609.1,"height":164.3,"layer":[
{"data":{"name":"gray"},"transform":[{"filter":"datum.p==8"}],"mark":{"type":"rect","color":"#545454"},"encoding":{"x":{"field":"t","type":"quantitative","scale":{"domain":[0,60],"nice":false,"zero":false},"axis":{"values":[0,5,10,15,20,25,30,35,40,45,50,55,60],"tickSize":3.3,"labelPadding":5.5,"labelBaseline":"top","labelLineHeight":8.3,"labelExpr":"datum.value==0?['6:13:00','2','Dec','2025']:datum.value==60?'14:00':datum.label","title":null}},"x2":{"field":"t2"},"y":{"field":"f","type":"quantitative","scale":{"domain":[0,1000],"nice":false,"zero":false},"axis":{"orient":"left","values":[0,200,400,600,800,1000],"format":"d","tickSize":3.3,"labelPadding":3,"title":"Frequency (Hz)","titleFontSize":10,"titlePadding":8}},"y2":{"field":"f2"}}},
{"data":{"name":"spots"},"transform":[{"filter":"datum.p==8"}],"mark":"rect","encoding":{"x":{"field":"t","type":"quantitative","scale":{"domain":[0,60],"nice":false,"zero":false},"axis":{"values":[0,1,2,3,4,5,6,7,8,9,10,11,12,13,14,15,16,17,18,19,20,21,22,23,24,25,26,27,28,29,30,31,32,33,34,35,36,37,38,39,40,41,42,43,44,45,46,47,48,49,50,51,52,53,54,55,56,57,58,59,60],"tickSize":2,"labels":false,"domain":false,"title":null}},"x2":{"field":"t2"},"y":{"field":"f","type":"quantitative","scale":{"domain":[0,1000],"nice":false,"zero":false},"axis":{"orient":"left","values":[0,50,100,150,200,250,300,350,400,450,500,550,600,650,700,750,800,850,900,950,1000],"tickSize":2,"labels":false,"domain":false,"title":null}},"y2":{"field":"f2"},"color":{"field":"v","type":"ordinal","scale":{"domain":[1,2,3,4,5,6,7],"range":["#0000ff","#0090ff","#00ffff","#80ff80","#ffff00","#ff9000","#ff0000"]},"legend":null}}},
{"data":{"name":"notes"},"transform":[{"filter":"datum.p==8"}],"mark":{"type":"text","color":"white","fontSize":7,"baseline":"middle","dy":4.5},"encoding":{"x":{"field":"t","type":"quantitative","scale":{"domain":[0,60],"nice":false,"zero":false},"axis":null},"y":{"datum":0,"type":"quantitative","scale":{"domain":[0,1000],"nice":false,"zero":false},"axis":{"orient":"right","values":[0,200,400,600,800,1000],"tickSize":3.3,"labels":false,"title":null}},"text":{"field":"a"}}},
{"data":{"name":"notes"},"transform":[{"filter":"datum.p==8"}],"mark":{"type":"text","color":"white","fontSize":7,"baseline":"middle","dy":10.9},"encoding":{"x":{"field":"t","type":"quantitative","scale":{"domain":[0,60],"nice":false,"zero":false},"axis":null},"y":{"datum":0,"type":"quantitative","scale":{"domain":[0,1000],"nice":false,"zero":false},"axis":{"orient":"right","values":[0,50,100,150,200,250,300,350,400,450,500,550,600,650,700,750,800,850,900,950,1000],"tickSize":2,"labels":false,"domain":false,"title":null}},"text":{"field":"b"}}},
{"data":{"name":"panels"},"transform":[{"filter":"datum.p==8"}],"mark":{"type":"text","align":"left","baseline":"middle","color":"#a0a0a0","fontSize":10.5},"encoding":{"x":{"datum":-4.82,"type":"quantitative","scale":{"domain":[0,60],"nice":false,"zero":false},"axis":null},"y":{"datum":901,"type":"quantitative","scale":{"domain":[0,1000],"nice":false,"zero":false},"axis":null},"text":{"field":"lab"}}}
],"resolve":{"axis":{"x":"independent","y":"independent"}}},

{"width":609.1,"height":164.3,"layer":[
{"data":{"name":"gray"},"transform":[{"filter":"datum.p==9"}],"mark":{"type":"rect","color":"#545454"},"encoding":{"x":{"field":"t","type":"quantitative","scale":{"domain":[0,60],"nice":false,"zero":false},"axis":{"values":[0,5,10,15,20,25,30,35,40,45,50,55,60],"tickSize":3.3,"labelPadding":5.5,"labelBaseline":"top","labelLineHeight":8.3,"labelExpr":"datum.value==0?['6:14:00','2','Dec','2025']:datum.value==60?'15:00':datum.label","title":null}},"x2":{"field":"t2"},"y":{"field":"f","type":"quantitative","scale":{"domain":[0,1000],"nice":false,"zero":false},"axis":{"orient":"left","values":[0,200,400,600,800,1000],"format":"d","tickSize":3.3,"labelPadding":3,"title":"Frequency (Hz)","titleFontSize":10,"titlePadding":8}},"y2":{"field":"f2"}}},
{"data":{"name":"spots"},"transform":[{"filter":"datum.p==9"}],"mark":"rect","encoding":{"x":{"field":"t","type":"quantitative","scale":{"domain":[0,60],"nice":false,"zero":false},"axis":{"values":[0,1,2,3,4,5,6,7,8,9,10,11,12,13,14,15,16,17,18,19,20,21,22,23,24,25,26,27,28,29,30,31,32,33,34,35,36,37,38,39,40,41,42,43,44,45,46,47,48,49,50,51,52,53,54,55,56,57,58,59,60],"tickSize":2,"labels":false,"domain":false,"title":null}},"x2":{"field":"t2"},"y":{"field":"f","type":"quantitative","scale":{"domain":[0,1000],"nice":false,"zero":false},"axis":{"orient":"left","values":[0,50,100,150,200,250,300,350,400,450,500,550,600,650,700,750,800,850,900,950,1000],"tickSize":2,"labels":false,"domain":false,"title":null}},"y2":{"field":"f2"},"color":{"field":"v","type":"ordinal","scale":{"domain":[1,2,3,4,5,6,7],"range":["#0000ff","#0090ff","#00ffff","#80ff80","#ffff00","#ff9000","#ff0000"]},"legend":null}}},
{"data":{"name":"notes"},"transform":[{"filter":"datum.p==9"}],"mark":{"type":"text","color":"white","fontSize":7,"baseline":"middle","dy":4.5},"encoding":{"x":{"field":"t","type":"quantitative","scale":{"domain":[0,60],"nice":false,"zero":false},"axis":null},"y":{"datum":0,"type":"quantitative","scale":{"domain":[0,1000],"nice":false,"zero":false},"axis":{"orient":"right","values":[0,200,400,600,800,1000],"tickSize":3.3,"labels":false,"title":null}},"text":{"field":"a"}}},
{"data":{"name":"notes"},"transform":[{"filter":"datum.p==9"}],"mark":{"type":"text","color":"white","fontSize":7,"baseline":"middle","dy":10.9},"encoding":{"x":{"field":"t","type":"quantitative","scale":{"domain":[0,60],"nice":false,"zero":false},"axis":null},"y":{"datum":0,"type":"quantitative","scale":{"domain":[0,1000],"nice":false,"zero":false},"axis":{"orient":"right","values":[0,50,100,150,200,250,300,350,400,450,500,550,600,650,700,750,800,850,900,950,1000],"tickSize":2,"labels":false,"domain":false,"title":null}},"text":{"field":"b"}}},
{"data":{"name":"panels"},"transform":[{"filter":"datum.p==9"}],"mark":{"type":"text","align":"left","baseline":"middle","color":"#a0a0a0","fontSize":10.5},"encoding":{"x":{"datum":-4.82,"type":"quantitative","scale":{"domain":[0,60],"nice":false,"zero":false},"axis":null},"y":{"datum":901,"type":"quantitative","scale":{"domain":[0,1000],"nice":false,"zero":false},"axis":null},"text":{"field":"lab"}}}
],"resolve":{"axis":{"x":"independent","y":"independent"}}},

{"width":609.1,"height":164.3,"layer":[
{"data":{"name":"gray"},"transform":[{"filter":"datum.p==10"}],"mark":{"type":"rect","color":"#545454"},"encoding":{"x":{"field":"t","type":"quantitative","scale":{"domain":[0,60],"nice":false,"zero":false},"axis":{"values":[0,5,10,15,20,25,30,35,40,45,50,55,60],"tickSize":3.3,"labelPadding":5.5,"labelBaseline":"top","labelLineHeight":8.3,"labelExpr":"datum.value==0?['6:15:00','2','Dec','2025']:datum.value==60?'16:00':datum.label","title":null}},"x2":{"field":"t2"},"y":{"field":"f","type":"quantitative","scale":{"domain":[0,1000],"nice":false,"zero":false},"axis":{"orient":"left","values":[0,200,400,600,800,1000],"format":"d","tickSize":3.3,"labelPadding":3,"title":"Frequency (Hz)","titleFontSize":10,"titlePadding":8}},"y2":{"field":"f2"}}},
{"data":{"name":"spots"},"transform":[{"filter":"datum.p==10"}],"mark":"rect","encoding":{"x":{"field":"t","type":"quantitative","scale":{"domain":[0,60],"nice":false,"zero":false},"axis":{"values":[0,1,2,3,4,5,6,7,8,9,10,11,12,13,14,15,16,17,18,19,20,21,22,23,24,25,26,27,28,29,30,31,32,33,34,35,36,37,38,39,40,41,42,43,44,45,46,47,48,49,50,51,52,53,54,55,56,57,58,59,60],"tickSize":2,"labels":false,"domain":false,"title":null}},"x2":{"field":"t2"},"y":{"field":"f","type":"quantitative","scale":{"domain":[0,1000],"nice":false,"zero":false},"axis":{"orient":"left","values":[0,50,100,150,200,250,300,350,400,450,500,550,600,650,700,750,800,850,900,950,1000],"tickSize":2,"labels":false,"domain":false,"title":null}},"y2":{"field":"f2"},"color":{"field":"v","type":"ordinal","scale":{"domain":[1,2,3,4,5,6,7],"range":["#0000ff","#0090ff","#00ffff","#80ff80","#ffff00","#ff9000","#ff0000"]},"legend":null}}},
{"data":{"name":"notes"},"transform":[{"filter":"datum.p==10"}],"mark":{"type":"text","color":"white","fontSize":7,"baseline":"middle","dy":4.5},"encoding":{"x":{"field":"t","type":"quantitative","scale":{"domain":[0,60],"nice":false,"zero":false},"axis":null},"y":{"datum":0,"type":"quantitative","scale":{"domain":[0,1000],"nice":false,"zero":false},"axis":{"orient":"right","values":[0,200,400,600,800,1000],"tickSize":3.3,"labels":false,"title":null}},"text":{"field":"a"}}},
{"data":{"name":"notes"},"transform":[{"filter":"datum.p==10"}],"mark":{"type":"text","color":"white","fontSize":7,"baseline":"middle","dy":10.9},"encoding":{"x":{"field":"t","type":"quantitative","scale":{"domain":[0,60],"nice":false,"zero":false},"axis":null},"y":{"datum":0,"type":"quantitative","scale":{"domain":[0,1000],"nice":false,"zero":false},"axis":{"orient":"right","values":[0,50,100,150,200,250,300,350,400,450,500,550,600,650,700,750,800,850,900,950,1000],"tickSize":2,"labels":false,"domain":false,"title":null}},"text":{"field":"b"}}},
{"data":{"name":"panels"},"transform":[{"filter":"datum.p==10"}],"mark":{"type":"text","align":"left","baseline":"middle","color":"#a0a0a0","fontSize":10.5},"encoding":{"x":{"datum":-4.82,"type":"quantitative","scale":{"domain":[0,60],"nice":false,"zero":false},"axis":null},"y":{"datum":901,"type":"quantitative","scale":{"domain":[0,1000],"nice":false,"zero":false},"axis":null},"text":{"field":"lab"}}}
],"resolve":{"axis":{"x":"independent","y":"independent"}}},

{"width":609.1,"height":164.3,"layer":[
{"data":{"name":"gray"},"transform":[{"filter":"datum.p==11"}],"mark":{"type":"rect","color":"#545454"},"encoding":{"x":{"field":"t","type":"quantitative","scale":{"domain":[0,60],"nice":false,"zero":false},"axis":{"values":[0,5,10,15,20,25,30,35,40,45,50,55,60],"tickSize":3.3,"labelPadding":5.5,"labelBaseline":"top","labelLineHeight":8.3,"labelExpr":"datum.value==0?['6:16:00','2','Dec','2025']:datum.value==60?'17:00':datum.label","title":null}},"x2":{"field":"t2"},"y":{"field":"f","type":"quantitative","scale":{"domain":[0,1000],"nice":false,"zero":false},"axis":{"orient":"left","values":[0,200,400,600,800,1000],"format":"d","tickSize":3.3,"labelPadding":3,"title":"Frequency (Hz)","titleFontSize":10,"titlePadding":8}},"y2":{"field":"f2"}}},
{"data":{"name":"spots"},"transform":[{"filter":"datum.p==11"}],"mark":"rect","encoding":{"x":{"field":"t","type":"quantitative","scale":{"domain":[0,60],"nice":false,"zero":false},"axis":{"values":[0,1,2,3,4,5,6,7,8,9,10,11,12,13,14,15,16,17,18,19,20,21,22,23,24,25,26,27,28,29,30,31,32,33,34,35,36,37,38,39,40,41,42,43,44,45,46,47,48,49,50,51,52,53,54,55,56,57,58,59,60],"tickSize":2,"labels":false,"domain":false,"title":null}},"x2":{"field":"t2"},"y":{"field":"f","type":"quantitative","scale":{"domain":[0,1000],"nice":false,"zero":false},"axis":{"orient":"left","values":[0,50,100,150,200,250,300,350,400,450,500,550,600,650,700,750,800,850,900,950,1000],"tickSize":2,"labels":false,"domain":false,"title":null}},"y2":{"field":"f2"},"color":{"field":"v","type":"ordinal","scale":{"domain":[1,2,3,4,5,6,7],"range":["#0000ff","#0090ff","#00ffff","#80ff80","#ffff00","#ff9000","#ff0000"]},"legend":null}}},
{"data":{"name":"notes"},"transform":[{"filter":"datum.p==11"}],"mark":{"type":"text","color":"white","fontSize":7,"baseline":"middle","dy":4.5},"encoding":{"x":{"field":"t","type":"quantitative","scale":{"domain":[0,60],"nice":false,"zero":false},"axis":null},"y":{"datum":0,"type":"quantitative","scale":{"domain":[0,1000],"nice":false,"zero":false},"axis":{"orient":"right","values":[0,200,400,600,800,1000],"tickSize":3.3,"labels":false,"title":null}},"text":{"field":"a"}}},
{"data":{"name":"notes"},"transform":[{"filter":"datum.p==11"}],"mark":{"type":"text","color":"white","fontSize":7,"baseline":"middle","dy":10.9},"encoding":{"x":{"field":"t","type":"quantitative","scale":{"domain":[0,60],"nice":false,"zero":false},"axis":null},"y":{"datum":0,"type":"quantitative","scale":{"domain":[0,1000],"nice":false,"zero":false},"axis":{"orient":"right","values":[0,50,100,150,200,250,300,350,400,450,500,550,600,650,700,750,800,850,900,950,1000],"tickSize":2,"labels":false,"domain":false,"title":null}},"text":{"field":"b"}}},
{"data":{"name":"panels"},"transform":[{"filter":"datum.p==11"}],"mark":{"type":"text","align":"left","baseline":"middle","color":"#a0a0a0","fontSize":10.5},"encoding":{"x":{"datum":-4.82,"type":"quantitative","scale":{"domain":[0,60],"nice":false,"zero":false},"axis":null},"y":{"datum":901,"type":"quantitative","scale":{"domain":[0,1000],"nice":false,"zero":false},"axis":null},"text":{"field":"lab"}}}
],"resolve":{"axis":{"x":"independent","y":"independent"}}},

{"width":609.1,"height":164.3,"layer":[
{"data":{"name":"gray"},"transform":[{"filter":"datum.p==12"}],"mark":{"type":"rect","color":"#545454"},"encoding":{"x":{"field":"t","type":"quantitative","scale":{"domain":[0,60],"nice":false,"zero":false},"axis":{"values":[0,5,10,15,20,25,30,35,40,45,50,55,60],"tickSize":3.3,"labelPadding":5.5,"labelBaseline":"top","labelLineHeight":8.3,"labelExpr":"datum.value==0?['6:17:00','2','Dec','2025']:datum.value==60?'18:00':datum.label","title":null}},"x2":{"field":"t2"},"y":{"field":"f","type":"quantitative","scale":{"domain":[0,1000],"nice":false,"zero":false},"axis":{"orient":"left","values":[0,200,400,600,800,1000],"format":"d","tickSize":3.3,"labelPadding":3,"title":"Frequency (Hz)","titleFontSize":10,"titlePadding":8}},"y2":{"field":"f2"}}},
{"data":{"name":"spots"},"transform":[{"filter":"datum.p==12"}],"mark":"rect","encoding":{"x":{"field":"t","type":"quantitative","scale":{"domain":[0,60],"nice":false,"zero":false},"axis":{"values":[0,1,2,3,4,5,6,7,8,9,10,11,12,13,14,15,16,17,18,19,20,21,22,23,24,25,26,27,28,29,30,31,32,33,34,35,36,37,38,39,40,41,42,43,44,45,46,47,48,49,50,51,52,53,54,55,56,57,58,59,60],"tickSize":2,"labels":false,"domain":false,"title":null}},"x2":{"field":"t2"},"y":{"field":"f","type":"quantitative","scale":{"domain":[0,1000],"nice":false,"zero":false},"axis":{"orient":"left","values":[0,50,100,150,200,250,300,350,400,450,500,550,600,650,700,750,800,850,900,950,1000],"tickSize":2,"labels":false,"domain":false,"title":null}},"y2":{"field":"f2"},"color":{"field":"v","type":"ordinal","scale":{"domain":[1,2,3,4,5,6,7],"range":["#0000ff","#0090ff","#00ffff","#80ff80","#ffff00","#ff9000","#ff0000"]},"legend":null}}},
{"data":{"name":"notes"},"transform":[{"filter":"datum.p==12"}],"mark":{"type":"text","color":"white","fontSize":7,"baseline":"middle","dy":4.5},"encoding":{"x":{"field":"t","type":"quantitative","scale":{"domain":[0,60],"nice":false,"zero":false},"axis":null},"y":{"datum":0,"type":"quantitative","scale":{"domain":[0,1000],"nice":false,"zero":false},"axis":{"orient":"right","values":[0,200,400,600,800,1000],"tickSize":3.3,"labels":false,"title":null}},"text":{"field":"a"}}},
{"data":{"name":"notes"},"transform":[{"filter":"datum.p==12"}],"mark":{"type":"text","color":"white","fontSize":7,"baseline":"middle","dy":10.9},"encoding":{"x":{"field":"t","type":"quantitative","scale":{"domain":[0,60],"nice":false,"zero":false},"axis":null},"y":{"datum":0,"type":"quantitative","scale":{"domain":[0,1000],"nice":false,"zero":false},"axis":{"orient":"right","values":[0,50,100,150,200,250,300,350,400,450,500,550,600,650,700,750,800,850,900,950,1000],"tickSize":2,"labels":false,"domain":false,"title":null}},"text":{"field":"b"}}},
{"data":{"name":"panels"},"transform":[{"filter":"datum.p==12"}],"mark":{"type":"text","align":"left","baseline":"middle","color":"#a0a0a0","fontSize":10.5},"encoding":{"x":{"datum":-4.82,"type":"quantitative","scale":{"domain":[0,60],"nice":false,"zero":false},"axis":null},"y":{"datum":901,"type":"quantitative","scale":{"domain":[0,1000],"nice":false,"zero":false},"axis":null},"text":{"field":"lab"}}}
],"resolve":{"axis":{"x":"independent","y":"independent"}}},

{"width":609.1,"height":164.3,"layer":[
{"data":{"name":"gray"},"transform":[{"filter":"datum.p==13"}],"mark":{"type":"rect","color":"#545454"},"encoding":{"x":{"field":"t","type":"quantitative","scale":{"domain":[0,60],"nice":false,"zero":false},"axis":{"values":[0,5,10,15,20,25,30,35,40,45,50,55,60],"tickSize":3.3,"labelPadding":5.5,"labelBaseline":"top","labelLineHeight":8.3,"labelExpr":"datum.value==0?['6:18:00','2','Dec','2025']:datum.value==60?'19:00':datum.label","title":null}},"x2":{"field":"t2"},"y":{"field":"f","type":"quantitative","scale":{"domain":[0,1000],"nice":false,"zero":false},"axis":{"orient":"left","values":[0,200,400,600,800,1000],"format":"d","tickSize":3.3,"labelPadding":3,"title":"Frequency (Hz)","titleFontSize":10,"titlePadding":8}},"y2":{"field":"f2"}}},
{"data":{"name":"spots"},"transform":[{"filter":"datum.p==13"}],"mark":"rect","encoding":{"x":{"field":"t","type":"quantitative","scale":{"domain":[0,60],"nice":false,"zero":false},"axis":{"values":[0,1,2,3,4,5,6,7,8,9,10,11,12,13,14,15,16,17,18,19,20,21,22,23,24,25,26,27,28,29,30,31,32,33,34,35,36,37,38,39,40,41,42,43,44,45,46,47,48,49,50,51,52,53,54,55,56,57,58,59,60],"tickSize":2,"labels":false,"domain":false,"title":null}},"x2":{"field":"t2"},"y":{"field":"f","type":"quantitative","scale":{"domain":[0,1000],"nice":false,"zero":false},"axis":{"orient":"left","values":[0,50,100,150,200,250,300,350,400,450,500,550,600,650,700,750,800,850,900,950,1000],"tickSize":2,"labels":false,"domain":false,"title":null}},"y2":{"field":"f2"},"color":{"field":"v","type":"ordinal","scale":{"domain":[1,2,3,4,5,6,7],"range":["#0000ff","#0090ff","#00ffff","#80ff80","#ffff00","#ff9000","#ff0000"]},"legend":null}}},
{"data":{"name":"notes"},"transform":[{"filter":"datum.p==13"}],"mark":{"type":"text","color":"white","fontSize":7,"baseline":"middle","dy":4.5},"encoding":{"x":{"field":"t","type":"quantitative","scale":{"domain":[0,60],"nice":false,"zero":false},"axis":null},"y":{"datum":0,"type":"quantitative","scale":{"domain":[0,1000],"nice":false,"zero":false},"axis":{"orient":"right","values":[0,200,400,600,800,1000],"tickSize":3.3,"labels":false,"title":null}},"text":{"field":"a"}}},
{"data":{"name":"notes"},"transform":[{"filter":"datum.p==13"}],"mark":{"type":"text","color":"white","fontSize":7,"baseline":"middle","dy":10.9},"encoding":{"x":{"field":"t","type":"quantitative","scale":{"domain":[0,60],"nice":false,"zero":false},"axis":null},"y":{"datum":0,"type":"quantitative","scale":{"domain":[0,1000],"nice":false,"zero":false},"axis":{"orient":"right","values":[0,50,100,150,200,250,300,350,400,450,500,550,600,650,700,750,800,850,900,950,1000],"tickSize":2,"labels":false,"domain":false,"title":null}},"text":{"field":"b"}}},
{"data":{"name":"panels"},"transform":[{"filter":"datum.p==13"}],"mark":{"type":"text","align":"left","baseline":"middle","color":"#a0a0a0","fontSize":10.5},"encoding":{"x":{"datum":-4.82,"type":"quantitative","scale":{"domain":[0,60],"nice":false,"zero":false},"axis":null},"y":{"datum":901,"type":"quantitative","scale":{"domain":[0,1000],"nice":false,"zero":false},"axis":null},"text":{"field":"lab"}}},
{"data":{"name":"events"},"transform":[{"filter":"datum.p==13"}],"mark":{"type":"rule","color":"white","strokeDash":[5.2,2.4],"strokeWidth":1},"encoding":{"x":{"field":"t","type":"quantitative","scale":{"domain":[0,60],"nice":false,"zero":false},"axis":null},"y":{"datum":1000,"type":"quantitative","scale":{"domain":[0,1000],"nice":false,"zero":false},"axis":null},"y2":{"datum":0}}},
{"data":{"name":"events"},"transform":[{"filter":"datum.p==13"}],"mark":{"type":"text","color":"white","fontSize":7,"baseline":"middle","dy":-12.3},"encoding":{"x":{"field":"t","type":"quantitative","scale":{"domain":[0,60],"nice":false,"zero":false},"axis":null},"y":{"datum":1000,"type":"quantitative","scale":{"domain":[0,1000],"nice":false,"zero":false},"axis":null},"text":{"field":"s"}}}
],"resolve":{"axis":{"x":"independent","y":"independent"}}},

{"width":609.1,"height":164.3,"layer":[
{"data":{"name":"gray"},"transform":[{"filter":"datum.p==14"}],"mark":{"type":"rect","color":"#545454"},"encoding":{"x":{"field":"t","type":"quantitative","scale":{"domain":[0,60],"nice":false,"zero":false},"axis":{"values":[0,5,10,15,20,25,30,35,40,45,50,55,60],"tickSize":3.3,"labelPadding":5.5,"labelBaseline":"top","labelLineHeight":8.3,"labelExpr":"datum.value==0?['6:19:00','2','Dec','2025']:datum.value==60?'20:00':datum.label","title":null}},"x2":{"field":"t2"},"y":{"field":"f","type":"quantitative","scale":{"domain":[0,1000],"nice":false,"zero":false},"axis":{"orient":"left","values":[0,200,400,600,800,1000],"format":"d","tickSize":3.3,"labelPadding":3,"title":"Frequency (Hz)","titleFontSize":10,"titlePadding":8}},"y2":{"field":"f2"}}},
{"data":{"name":"spots"},"transform":[{"filter":"datum.p==14"}],"mark":"rect","encoding":{"x":{"field":"t","type":"quantitative","scale":{"domain":[0,60],"nice":false,"zero":false},"axis":{"values":[0,1,2,3,4,5,6,7,8,9,10,11,12,13,14,15,16,17,18,19,20,21,22,23,24,25,26,27,28,29,30,31,32,33,34,35,36,37,38,39,40,41,42,43,44,45,46,47,48,49,50,51,52,53,54,55,56,57,58,59,60],"tickSize":2,"labels":false,"domain":false,"title":null}},"x2":{"field":"t2"},"y":{"field":"f","type":"quantitative","scale":{"domain":[0,1000],"nice":false,"zero":false},"axis":{"orient":"left","values":[0,50,100,150,200,250,300,350,400,450,500,550,600,650,700,750,800,850,900,950,1000],"tickSize":2,"labels":false,"domain":false,"title":null}},"y2":{"field":"f2"},"color":{"field":"v","type":"ordinal","scale":{"domain":[1,2,3,4,5,6,7],"range":["#0000ff","#0090ff","#00ffff","#80ff80","#ffff00","#ff9000","#ff0000"]},"legend":null}}},
{"data":{"name":"notes"},"transform":[{"filter":"datum.p==14"}],"mark":{"type":"text","color":"white","fontSize":7,"baseline":"middle","dy":4.5},"encoding":{"x":{"field":"t","type":"quantitative","scale":{"domain":[0,60],"nice":false,"zero":false},"axis":null},"y":{"datum":0,"type":"quantitative","scale":{"domain":[0,1000],"nice":false,"zero":false},"axis":{"orient":"right","values":[0,200,400,600,800,1000],"tickSize":3.3,"labels":false,"title":null}},"text":{"field":"a"}}},
{"data":{"name":"notes"},"transform":[{"filter":"datum.p==14"}],"mark":{"type":"text","color":"white","fontSize":7,"baseline":"middle","dy":10.9},"encoding":{"x":{"field":"t","type":"quantitative","scale":{"domain":[0,60],"nice":false,"zero":false},"axis":null},"y":{"datum":0,"type":"quantitative","scale":{"domain":[0,1000],"nice":false,"zero":false},"axis":{"orient":"right","values":[0,50,100,150,200,250,300,350,400,450,500,550,600,650,700,750,800,850,900,950,1000],"tickSize":2,"labels":false,"domain":false,"title":null}},"text":{"field":"b"}}},
{"data":{"name":"panels"},"transform":[{"filter":"datum.p==14"}],"mark":{"type":"text","align":"left","baseline":"middle","color":"#a0a0a0","fontSize":10.5},"encoding":{"x":{"datum":-4.82,"type":"quantitative","scale":{"domain":[0,60],"nice":false,"zero":false},"axis":null},"y":{"datum":901,"type":"quantitative","scale":{"domain":[0,1000],"nice":false,"zero":false},"axis":null},"text":{"field":"lab"}}}
],"resolve":{"axis":{"x":"independent","y":"independent"}}},

{"width":609.1,"height":164.3,"layer":[
{"data":{"name":"gray"},"transform":[{"filter":"datum.p==15"}],"mark":{"type":"rect","color":"#545454"},"encoding":{"x":{"field":"t","type":"quantitative","scale":{"domain":[0,60],"nice":false,"zero":false},"axis":{"values":[0,5,10,15,20,25,30,35,40,45,50,55,60],"tickSize":3.3,"labelPadding":5.5,"labelBaseline":"top","labelLineHeight":8.3,"labelExpr":"datum.value==0?['6:20:00','2','Dec','2025']:datum.value==60?'21:00':datum.label","title":null}},"x2":{"field":"t2"},"y":{"field":"f","type":"quantitative","scale":{"domain":[0,1000],"nice":false,"zero":false},"axis":{"orient":"left","values":[0,200,400,600,800,1000],"format":"d","tickSize":3.3,"labelPadding":3,"title":"Frequency (Hz)","titleFontSize":10,"titlePadding":8}},"y2":{"field":"f2"}}},
{"data":{"name":"spots"},"transform":[{"filter":"datum.p==15"}],"mark":"rect","encoding":{"x":{"field":"t","type":"quantitative","scale":{"domain":[0,60],"nice":false,"zero":false},"axis":{"values":[0,1,2,3,4,5,6,7,8,9,10,11,12,13,14,15,16,17,18,19,20,21,22,23,24,25,26,27,28,29,30,31,32,33,34,35,36,37,38,39,40,41,42,43,44,45,46,47,48,49,50,51,52,53,54,55,56,57,58,59,60],"tickSize":2,"labels":false,"domain":false,"title":null}},"x2":{"field":"t2"},"y":{"field":"f","type":"quantitative","scale":{"domain":[0,1000],"nice":false,"zero":false},"axis":{"orient":"left","values":[0,50,100,150,200,250,300,350,400,450,500,550,600,650,700,750,800,850,900,950,1000],"tickSize":2,"labels":false,"domain":false,"title":null}},"y2":{"field":"f2"},"color":{"field":"v","type":"ordinal","scale":{"domain":[1,2,3,4,5,6,7],"range":["#0000ff","#0090ff","#00ffff","#80ff80","#ffff00","#ff9000","#ff0000"]},"legend":null}}},
{"data":{"name":"notes"},"transform":[{"filter":"datum.p==15"}],"mark":{"type":"text","color":"white","fontSize":7,"baseline":"middle","dy":4.5},"encoding":{"x":{"field":"t","type":"quantitative","scale":{"domain":[0,60],"nice":false,"zero":false},"axis":null},"y":{"datum":0,"type":"quantitative","scale":{"domain":[0,1000],"nice":false,"zero":false},"axis":{"orient":"right","values":[0,200,400,600,800,1000],"tickSize":3.3,"labels":false,"title":null}},"text":{"field":"a"}}},
{"data":{"name":"notes"},"transform":[{"filter":"datum.p==15"}],"mark":{"type":"text","color":"white","fontSize":7,"baseline":"middle","dy":10.9},"encoding":{"x":{"field":"t","type":"quantitative","scale":{"domain":[0,60],"nice":false,"zero":false},"axis":null},"y":{"datum":0,"type":"quantitative","scale":{"domain":[0,1000],"nice":false,"zero":false},"axis":{"orient":"right","values":[0,50,100,150,200,250,300,350,400,450,500,550,600,650,700,750,800,850,900,950,1000],"tickSize":2,"labels":false,"domain":false,"title":null}},"text":{"field":"b"}}},
{"data":{"name":"panels"},"transform":[{"filter":"datum.p==15"}],"mark":{"type":"text","align":"left","baseline":"middle","color":"#a0a0a0","fontSize":10.5},"encoding":{"x":{"datum":-4.82,"type":"quantitative","scale":{"domain":[0,60],"nice":false,"zero":false},"axis":null},"y":{"datum":901,"type":"quantitative","scale":{"domain":[0,1000],"nice":false,"zero":false},"axis":null},"text":{"field":"lab"}}}
],"resolve":{"axis":{"x":"independent","y":"independent"}}},

{"width":609.1,"height":164.3,"layer":[
{"data":{"name":"gray"},"transform":[{"filter":"datum.p==16"}],"mark":{"type":"rect","color":"#545454"},"encoding":{"x":{"field":"t","type":"quantitative","scale":{"domain":[0,60],"nice":false,"zero":false},"axis":{"values":[0,5,10,15,20,25,30,35,40,45,50,55,60],"tickSize":3.3,"labelPadding":5.5,"labelBaseline":"top","labelLineHeight":8.3,"labelExpr":"datum.value==0?['6:21:00','2','Dec','2025']:datum.value==60?'22:00':datum.label","title":null}},"x2":{"field":"t2"},"y":{"field":"f","type":"quantitative","scale":{"domain":[0,1000],"nice":false,"zero":false},"axis":{"orient":"left","values":[0,200,400,600,800,1000],"format":"d","tickSize":3.3,"labelPadding":3,"title":"Frequency (Hz)","titleFontSize":10,"titlePadding":8}},"y2":{"field":"f2"}}},
{"data":{"name":"spots"},"transform":[{"filter":"datum.p==16"}],"mark":"rect","encoding":{"x":{"field":"t","type":"quantitative","scale":{"domain":[0,60],"nice":false,"zero":false},"axis":{"values":[0,1,2,3,4,5,6,7,8,9,10,11,12,13,14,15,16,17,18,19,20,21,22,23,24,25,26,27,28,29,30,31,32,33,34,35,36,37,38,39,40,41,42,43,44,45,46,47,48,49,50,51,52,53,54,55,56,57,58,59,60],"tickSize":2,"labels":false,"domain":false,"title":null}},"x2":{"field":"t2"},"y":{"field":"f","type":"quantitative","scale":{"domain":[0,1000],"nice":false,"zero":false},"axis":{"orient":"left","values":[0,50,100,150,200,250,300,350,400,450,500,550,600,650,700,750,800,850,900,950,1000],"tickSize":2,"labels":false,"domain":false,"title":null}},"y2":{"field":"f2"},"color":{"field":"v","type":"ordinal","scale":{"domain":[1,2,3,4,5,6,7],"range":["#0000ff","#0090ff","#00ffff","#80ff80","#ffff00","#ff9000","#ff0000"]},"legend":null}}},
{"data":{"name":"notes"},"transform":[{"filter":"datum.p==16"}],"mark":{"type":"text","color":"white","fontSize":7,"baseline":"middle","dy":4.5},"encoding":{"x":{"field":"t","type":"quantitative","scale":{"domain":[0,60],"nice":false,"zero":false},"axis":null},"y":{"datum":0,"type":"quantitative","scale":{"domain":[0,1000],"nice":false,"zero":false},"axis":{"orient":"right","values":[0,200,400,600,800,1000],"tickSize":3.3,"labels":false,"title":null}},"text":{"field":"a"}}},
{"data":{"name":"notes"},"transform":[{"filter":"datum.p==16"}],"mark":{"type":"text","color":"white","fontSize":7,"baseline":"middle","dy":10.9},"encoding":{"x":{"field":"t","type":"quantitative","scale":{"domain":[0,60],"nice":false,"zero":false},"axis":null},"y":{"datum":0,"type":"quantitative","scale":{"domain":[0,1000],"nice":false,"zero":false},"axis":{"orient":"right","values":[0,50,100,150,200,250,300,350,400,450,500,550,600,650,700,750,800,850,900,950,1000],"tickSize":2,"labels":false,"domain":false,"title":null}},"text":{"field":"b"}}},
{"data":{"name":"panels"},"transform":[{"filter":"datum.p==16"}],"mark":{"type":"text","align":"left","baseline":"middle","color":"#a0a0a0","fontSize":10.5},"encoding":{"x":{"datum":-4.82,"type":"quantitative","scale":{"domain":[0,60],"nice":false,"zero":false},"axis":null},"y":{"datum":901,"type":"quantitative","scale":{"domain":[0,1000],"nice":false,"zero":false},"axis":null},"text":{"field":"lab"}}}
],"resolve":{"axis":{"x":"independent","y":"independent"}}},

{"width":609.1,"height":164.3,"layer":[
{"data":{"name":"gray"},"transform":[{"filter":"datum.p==17"}],"mark":{"type":"rect","color":"#545454"},"encoding":{"x":{"field":"t","type":"quantitative","scale":{"domain":[0,60],"nice":false,"zero":false},"axis":{"values":[0,5,10,15,20,25,30,35,40,45,50,55,60],"tickSize":3.3,"labelPadding":5.5,"labelBaseline":"top","labelLineHeight":8.3,"labelExpr":"datum.value==0?['6:22:00','2','Dec','2025']:datum.value==60?'23:00':datum.label","title":null}},"x2":{"field":"t2"},"y":{"field":"f","type":"quantitative","scale":{"domain":[0,1000],"nice":false,"zero":false},"axis":{"orient":"left","values":[0,200,400,600,800,1000],"format":"d","tickSize":3.3,"labelPadding":3,"title":"Frequency (Hz)","titleFontSize":10,"titlePadding":8}},"y2":{"field":"f2"}}},
{"data":{"name":"spots"},"transform":[{"filter":"datum.p==17"}],"mark":"rect","encoding":{"x":{"field":"t","type":"quantitative","scale":{"domain":[0,60],"nice":false,"zero":false},"axis":{"values":[0,1,2,3,4,5,6,7,8,9,10,11,12,13,14,15,16,17,18,19,20,21,22,23,24,25,26,27,28,29,30,31,32,33,34,35,36,37,38,39,40,41,42,43,44,45,46,47,48,49,50,51,52,53,54,55,56,57,58,59,60],"tickSize":2,"labels":false,"domain":false,"title":null}},"x2":{"field":"t2"},"y":{"field":"f","type":"quantitative","scale":{"domain":[0,1000],"nice":false,"zero":false},"axis":{"orient":"left","values":[0,50,100,150,200,250,300,350,400,450,500,550,600,650,700,750,800,850,900,950,1000],"tickSize":2,"labels":false,"domain":false,"title":null}},"y2":{"field":"f2"},"color":{"field":"v","type":"ordinal","scale":{"domain":[1,2,3,4,5,6,7],"range":["#0000ff","#0090ff","#00ffff","#80ff80","#ffff00","#ff9000","#ff0000"]},"legend":null}}},
{"data":{"name":"notes"},"transform":[{"filter":"datum.p==17"}],"mark":{"type":"text","color":"white","fontSize":7,"baseline":"middle","dy":4.5},"encoding":{"x":{"field":"t","type":"quantitative","scale":{"domain":[0,60],"nice":false,"zero":false},"axis":null},"y":{"datum":0,"type":"quantitative","scale":{"domain":[0,1000],"nice":false,"zero":false},"axis":{"orient":"right","values":[0,200,400,600,800,1000],"tickSize":3.3,"labels":false,"title":null}},"text":{"field":"a"}}},
{"data":{"name":"notes"},"transform":[{"filter":"datum.p==17"}],"mark":{"type":"text","color":"white","fontSize":7,"baseline":"middle","dy":10.9},"encoding":{"x":{"field":"t","type":"quantitative","scale":{"domain":[0,60],"nice":false,"zero":false},"axis":null},"y":{"datum":0,"type":"quantitative","scale":{"domain":[0,1000],"nice":false,"zero":false},"axis":{"orient":"right","values":[0,50,100,150,200,250,300,350,400,450,500,550,600,650,700,750,800,850,900,950,1000],"tickSize":2,"labels":false,"domain":false,"title":null}},"text":{"field":"b"}}},
{"data":{"name":"panels"},"transform":[{"filter":"datum.p==17"}],"mark":{"type":"text","align":"left","baseline":"middle","color":"#a0a0a0","fontSize":10.5},"encoding":{"x":{"datum":-4.82,"type":"quantitative","scale":{"domain":[0,60],"nice":false,"zero":false},"axis":null},"y":{"datum":901,"type":"quantitative","scale":{"domain":[0,1000],"nice":false,"zero":false},"axis":null},"text":{"field":"lab"}}}
],"resolve":{"axis":{"x":"independent","y":"independent"}}}
]
}
